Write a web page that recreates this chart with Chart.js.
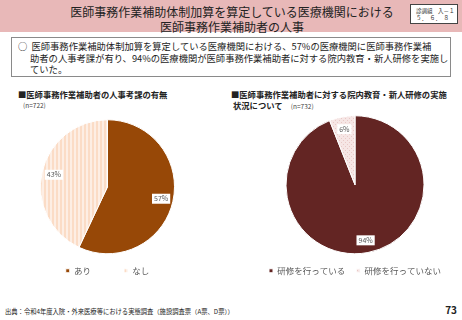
<!DOCTYPE html>
<html>
<head>
<meta charset="utf-8">
<script src="https://cdn.jsdelivr.net/npm/chart.js@4"></script>
<style>
  body { margin: 0; width: 462px; height: 320px; background: #fff; position: relative; overflow: hidden;
         font-family: "Noto Sans CJK JP", sans-serif; color: #222; }
  .head { position: absolute; left: 0; top: 0; width: 462px; height: 32px; background: #e8b8b8; }
  .title { position: absolute; left: 0; width: 464px; text-align: center; font-size: 12px; line-height: 15px; top: 4px; }
  .tag { position: absolute; left: 410px; top: 4px; width: 48px; height: 20px; background: #fff; border: 1px solid #444;
         font-size: 5.5px; line-height: 7px; padding: 3px 0 0 5px; box-sizing: border-box; color: #333; }
  .box { position: absolute; left: 11px; top: 37px; width: 440px; height: 40px; border: 1px solid #8a8a8a; box-sizing: border-box; }
  .box p { margin: 0; position: absolute; font-size: 9.3px; line-height: 11px; white-space: nowrap; }
  .sub { position: absolute; font-size: 8.3px; font-weight: bold; line-height: 10px; white-space: nowrap; }
  .n { font-size: 6.5px; font-weight: normal; color: #444; }
  canvas { position: absolute; }
  .foot { position: absolute; left: 5px; top: 307px; font-size: 6.3px; white-space: nowrap; }
  .page { position: absolute; right: 5px; top: 302px; font-size: 10px; font-weight: bold; }
</style>
</head>
<body>
<div class="head"></div>
<div class="title">医師事務作業補助体制加算を算定している医療機関における<br>医師事務作業補助者の人事</div>
<div class="tag">診調組　入－１<br>５．　６．　８</div>
<div class="box">
  <p style="left:6px; top:3px;">○&nbsp;&nbsp;医師事務作業補助体制加算を算定している医療機関における、57%の医療機関に医師事務作業補</p>
  <p style="left:18px; top:15px;">助者の人事考課が有り、94%の医療機関が医師事務作業補助者に対する院内教育・新人研修を実施し</p>
  <p style="left:18px; top:26px;">ていた。</p>
</div>
<div class="sub" style="left:18px; top:89px;">■医師事務作業補助者の人事考課の有無</div>
<div class="sub n" style="left:23px; top:100px;">(n=722)</div>
<div class="sub" style="left:231px; top:89px;">■医師事務作業補助者に対する院内教育・新人研修の実施</div>
<div class="sub" style="left:233px; top:100px;">状況について　<span class="n">(n=732)</span></div>

<canvas id="pieLeft" width="215" height="175" style="left:0; top:110px;"></canvas>
<canvas id="pieRight" width="220" height="175" style="left:245px; top:110px;"></canvas>

<div class="foot">出典：令和4年度入院・外来医療等における実態調査（施設調査票（A票、D票））</div>
<div class="page">73</div>

<script>
const leftLabels = ["あり", "なし"];
const leftValues = [57, 43];
const rightLabels = ["研修を行っている", "研修を行っていない"];
const rightValues = [94, 6];

const fontFamily = '"Noto Sans CJK JP", sans-serif';

function stripePattern(base, light) {
  const c = document.createElement("canvas");
  c.width = 4; c.height = 4;
  const g = c.getContext("2d");
  g.fillStyle = base; g.fillRect(0, 0, 4, 4);
  g.fillStyle = light; g.fillRect(2, 0, 2, 4);
  return g.createPattern(c, "repeat");
}

function hatchPattern(base, dot) {
  const c = document.createElement("canvas");
  c.width = 4; c.height = 4;
  const g = c.getContext("2d");
  g.fillStyle = base; g.fillRect(0, 0, 4, 4);
  g.fillStyle = dot; g.fillRect(0, 0, 1, 1); g.fillRect(2, 2, 1, 1);
  return g.createPattern(c, "repeat");
}

// percentage labels in small white boxes
const pctLabels = {
  id: "pctLabels",
  afterDatasetsDraw(chart) {
    const ctx = chart.ctx;
    const ds = chart.data.datasets[0];
    chart.getDatasetMeta(0).data.forEach((arc, i) => {
      const p = arc.getProps(["x", "y", "startAngle", "endAngle", "outerRadius"], true);
      const mid = (p.startAngle + p.endAngle) / 2;
      const r = p.outerRadius * 0.82;
      const x = p.x + Math.cos(mid) * r;
      const y = p.y + Math.sin(mid) * r;
      const txt = ds.data[i] + "%";
      ctx.save();
      ctx.font = "7px " + fontFamily;
      const w = ctx.measureText(txt).width + 4;
      ctx.fillStyle = "#fff";
      ctx.fillRect(x - w / 2, y - 5, w, 10);
      ctx.fillStyle = "#595959";
      ctx.textAlign = "center";
      ctx.textBaseline = "middle";
      ctx.fillText(txt, x, y);
      ctx.restore();
    });
  }
};

function makePie(id, labels, values, colors, radius, legendPad, padTop) {
  return new Chart(document.getElementById(id), {
    type: "pie",
    data: {
      labels: labels,
      datasets: [{
        data: values,
        backgroundColor: colors,
        borderColor: "#fff",
        borderWidth: 1,
        radius: radius,
        clip: false
      }]
    },
    options: {
      responsive: false,
      animation: false,
      layout: { padding: { top: padTop } },
      plugins: {
        tooltip: { enabled: false },
        legend: {
          position: "bottom",
          labels: {
            boxWidth: 4,
            boxHeight: 4,
            padding: legendPad,
            color: "#595959",
            font: { size: 8.5, family: fontFamily }
          }
        }
      }
    },
    plugins: [pctLabels]
  });
}

makePie("pieLeft", leftLabels, leftValues,
  ["#974807", stripePattern("#fbdcc6", "#fdeee4")], 67, 33, 30);
makePie("pieRight", rightLabels, rightValues,
  ["#632523", hatchPattern("#f6e6e5", "#e8c8c6")], 69, 11, 4);
</script>
</body>
</html>
